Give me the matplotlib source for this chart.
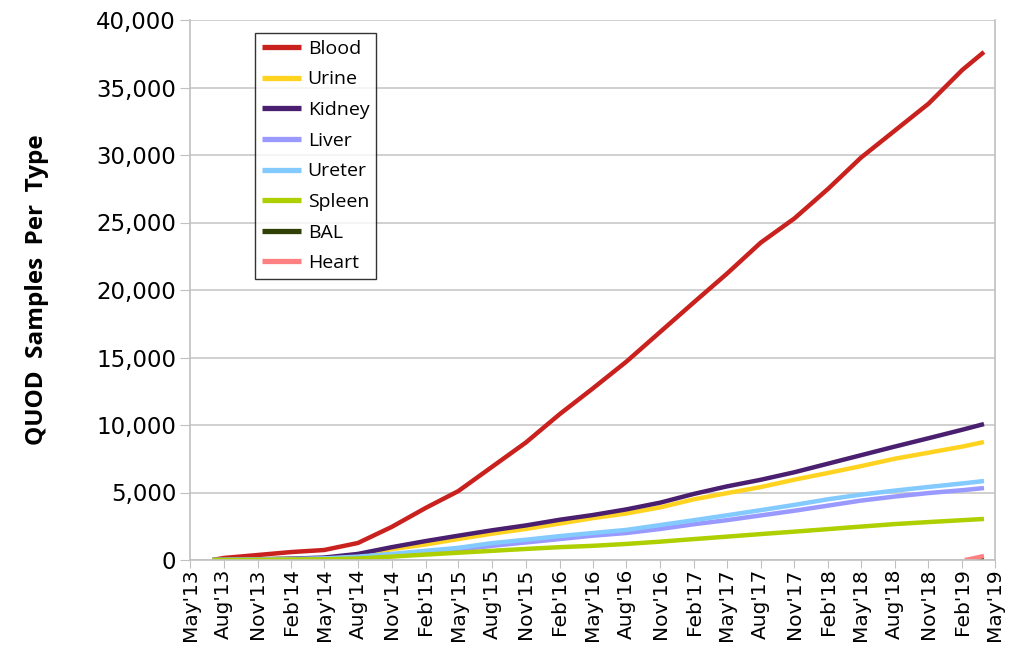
import matplotlib
matplotlib.use("Agg")
import matplotlib.pyplot as plt
import matplotlib.dates as mdates
import matplotlib.ticker as mticker
import pandas as pd

# quarterly sample dates (plus start/end)
dates = ["2013-07-01", "2013-08-01", "2013-11-01", "2014-02-01", "2014-05-01",
         "2014-08-01", "2014-11-01", "2015-02-01", "2015-05-01", "2015-08-01",
         "2015-11-01", "2016-02-01", "2016-05-01", "2016-08-01", "2016-11-01",
         "2017-02-01", "2017-05-01", "2017-08-01", "2017-11-01", "2018-02-01",
         "2018-05-01", "2018-08-01", "2018-11-01", "2019-02-01", "2019-04-01"]

blood = [0, 150, 370, 590, 740, 1260, 2450, 3850, 5100, 6900, 8700, 10800, 12700,
         14700, 16900, 19100, 21200, 23500, 25300, 27500, 29800, 31800, 33800, 36300, 37630]
urine = [0, 15, 50, 80, 140, 350, 800, 1150, 1550, 1950, 2300, 2700, 3100,
         3450, 3900, 4500, 4950, 5400, 5950, 6450, 6950, 7500, 7950, 8400, 8740]
kidney = [0, 20, 60, 100, 180, 450, 950, 1400, 1800, 2200, 2560, 2980, 3330,
          3750, 4250, 4900, 5450, 5940, 6500, 7140, 7760, 8400, 9020, 9650, 10070]
liver = [0, 10, 35, 60, 100, 200, 370, 550, 750, 1050, 1300, 1550, 1800,
         2000, 2300, 2650, 2950, 3300, 3650, 4030, 4400, 4700, 4960, 5170, 5330]
ureter = [0, 10, 40, 70, 120, 250, 450, 680, 900, 1250, 1500, 1770, 2000,
          2230, 2590, 2950, 3310, 3690, 4080, 4500, 4840, 5140, 5410, 5670, 5850]
spleen = [0, 5, 20, 35, 55, 110, 250, 400, 540, 680, 820, 950, 1050,
          1190, 1360, 1550, 1730, 1920, 2100, 2290, 2475, 2660, 2810, 2950, 3040]

bal_dates = ["2019-02-20", "2019-03-10", "2019-04-01"]
bal = [0, 20, 60]
heart_dates = ["2019-02-08", "2019-03-01", "2019-04-01"]
heart = [0, 110, 300]

series = [
    ("Blood", dates, blood, "#c9211e"),
    ("Urine", dates, urine, "#ffd320"),
    ("Kidney", dates, kidney, "#4b1f6f"),
    ("Liver", dates, liver, "#9999ff"),
    ("Ureter", dates, ureter, "#83caff"),
    ("Spleen", dates, spleen, "#aecf00"),
    ("BAL", bal_dates, bal, "#314004"),
    ("Heart", heart_dates, heart, "#ff8080"),
]

SANS = ["Open Sans", "Noto Sans", "DejaVu Sans"]

fig = plt.figure(figsize=(10.13, 6.49), dpi=100)
ax = fig.add_axes([190/1013, 1-560/649, 805/1013, 540/649])

for name, d, v, c in series:
    ax.plot(pd.to_datetime(d), v, color=c, lw=3.2, label=name, solid_capstyle="butt")

ax.set_xlim(pd.Timestamp("2013-05-01"), pd.Timestamp("2019-05-01"))
ax.set_ylim(0, 40000)
ax.yaxis.set_major_locator(mticker.MultipleLocator(5000))
ax.yaxis.set_major_formatter(mticker.FuncFormatter(lambda v, p: f"{int(v):,}"))
ax.xaxis.set_major_locator(mdates.MonthLocator(bymonth=[2, 5, 8, 11]))
ax.xaxis.set_major_formatter(mdates.DateFormatter("%b'%y"))

ax.grid(axis="y", color="#c8c8c8", lw=1.2)
ax.set_axisbelow(True)
for s in ax.spines.values():
    s.set_color("#c0c0c0")
    s.set_linewidth(1.2)
ax.spines["top"].set_visible(False)

ax.tick_params(axis="y", length=7, color="#c0c0c0", labelsize=16.5, pad=3)
ax.tick_params(axis="x", length=6, color="#c0c0c0", labelsize=14.5, rotation=90, pad=0)
for lab in ax.get_xticklabels() + ax.get_yticklabels():
    lab.set_family("DejaVu Sans")

ax.set_ylabel("QUOD  Samples  Per  Type", fontsize=17.5, fontweight="bold",
              family=SANS, labelpad=34)

leg = ax.legend(loc="upper left", bbox_to_anchor=(0.081, 0.976), borderaxespad=0,
                prop={"family": SANS, "size": 14}, frameon=True, fancybox=False,
                handlelength=2.0, handletextpad=0.35, labelspacing=0.65,
                borderpad=0.35)
leg.get_frame().set_edgecolor("black")
leg.get_frame().set_linewidth(1.0)
for h in leg.get_lines():
    h.set_linewidth(3.8)

fig.savefig("out.png", dpi=100)
